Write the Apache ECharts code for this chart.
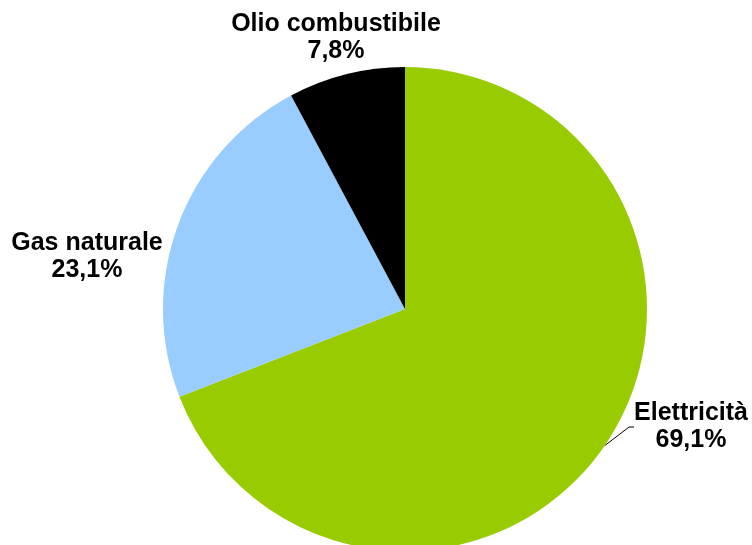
<!DOCTYPE html>
<html>
<head>
<meta charset="utf-8">
<script src="https://cdn.jsdelivr.net/npm/echarts@6/dist/echarts.min.js"></script>
<style>
  html, body { margin: 0; padding: 0; background: #fff; }
  #main { width: 752px; height: 545px; }
</style>
</head>
<body>
<div id="main"></div>
<script>
// dati del grafico
const categorie = ['Elettricità', 'Gas naturale', 'Olio combustibile'];
const valori = [69.1, 23.1, 7.8];
const colori = ['#99CC00', '#99CCFF', '#000000'];

// posizione delle etichette (centro del testo)
const posEtichette = [[691, 427], [87, 257], [336, 38]];

const myChart = echarts.init(document.getElementById('main'));

const option = {
  animation: false,
  series: [
    {
      type: 'pie',
      center: [405, 309],
      radius: 242,
      startAngle: 90,
      clockwise: true,
      data: categorie.map((c, i) => ({
        name: c,
        value: valori[i],
        itemStyle: { color: colori[i] },
        labelLine: { show: i === 0 }
      })),
      label: {
        show: true,
        position: 'outside',
        overflow: 'none',
        formatter: p => p.name + '\n' + p.value.toFixed(1).replace('.', ',') + '%',
        fontFamily: 'Liberation Sans, Arial, sans-serif',
        fontWeight: 'bold',
        fontSize: 25,
        lineHeight: 27,
        color: '#000',
        align: 'center'
      },
      labelLine: {
        lineStyle: { color: '#000', width: 1 },
        length: 10,
        length2: 5
      },
      labelLayout: function (params) {
        const p = posEtichette[params.dataIndex];
        return {
          x: p[0],
          y: p[1],
          align: 'center',
          verticalAlign: 'middle'
        };
      }
    }
  ]
};

myChart.setOption(option);
</script>
</body>
</html>
